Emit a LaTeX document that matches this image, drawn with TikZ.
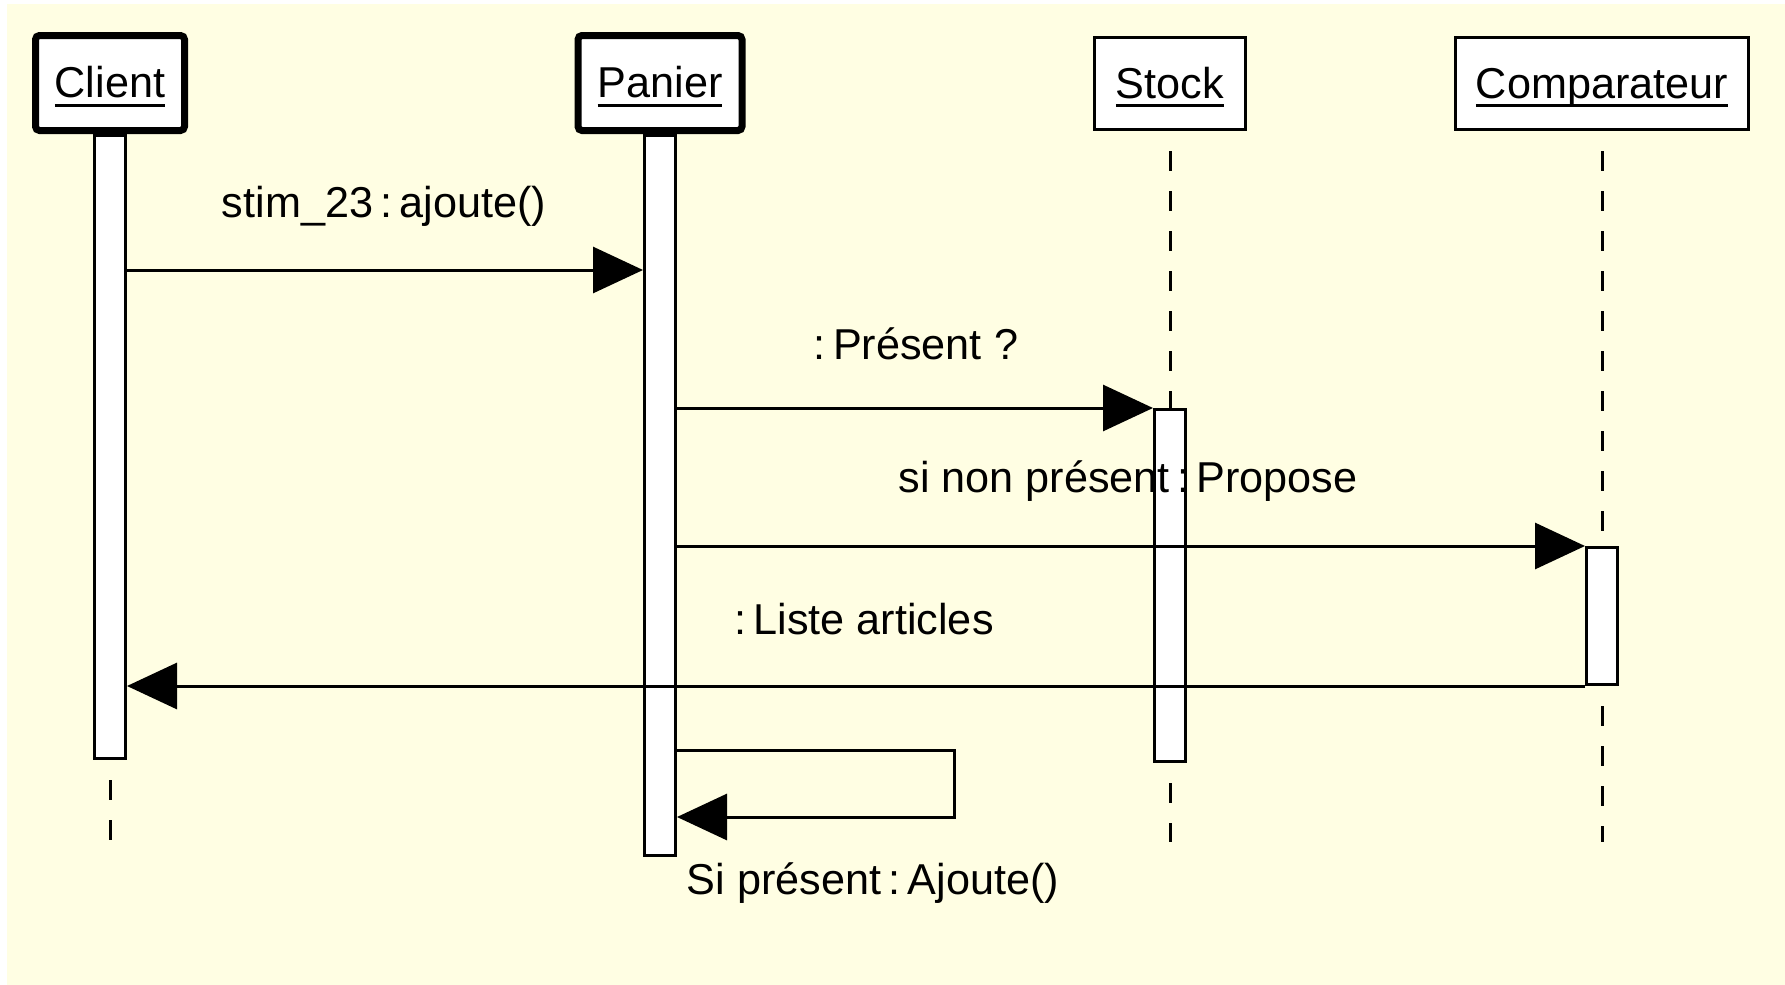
\documentclass[tikz,border=0pt]{standalone}
\usepackage{fontspec}
\setmainfont{Liberation Sans}
\usetikzlibrary{positioning,arrows.meta}
\newcommand{\uname}[1]{\setbox0\hbox{#1}\rlap{\vrule height -3pt depth 4.4pt width \wd0}\box0}
\definecolor{notepaper}{RGB}{255,254,227}

\begin{document}
\begin{tikzpicture}[x=0.5pt,y=-0.5pt,
    every node/.style={font=\fontsize{21.6}{26}\selectfont},
    actor/.style={draw,fill=white,line width=3.5pt,rounded corners=2pt,minimum width=#1,minimum height=47.5pt,text height=17pt,text depth=2.2pt},
    object/.style={draw,fill=white,line width=1.3pt,minimum width=#1,minimum height=46.2pt,text height=17pt,text depth=2.2pt},
    bar/.style={draw,fill=white,line width=1.5pt,inner sep=0pt,minimum width=15.5pt,minimum height=#1},
    life/.style={line width=1.5pt,dash pattern=on 10pt off 10pt,dash phase=10pt},
    msg/.style={line width=1.5pt,-{Triangle[length=25pt,width=23pt]}}]
  \useasboundingbox (0,0) rectangle (1785,985);
  \fill[white] (0,0) rectangle (1785,985);
  \fill[notepaper] (7,4) rectangle (1785,985);

  \node[actor=74.5pt] (client) at (110,83) {\uname{Client}};
  \node[actor=82pt] (panier) at (660,83) {\uname{Panier}};
  \node[object=75.7pt] (stock) at (1170,83.5) {\uname{Stock}};
  \node[object=146.7pt] (comp) at (1602,83.5) {\uname{Comparateur}};

  \node[bar=311.5pt, below=0pt of client] (cbar) {};
  \node[bar=360pt, below=0pt of panier] (pbar) {};
  \node[bar=176pt, anchor=north] (sbar) at (1170,408) {};
  \node[bar=68.5pt, anchor=north] (kbar) at (1602,546) {};

  \node (ajoute) at (384,206) {stim\_23\,:\,ajoute()};
  \node (present) at (916,344) {:\,Présent ?};
  \node (propose) at (1128,481) {si non présent\,:\,Propose};
  \node (liste) at (864,619) {:\,Liste articles};
  \node (siajoute) at (873,883) {Si présent\,:\,Ajoute()};

  \coordinate (cend) at (110,842);
  \coordinate (send) at (1170,842);
  \coordinate (kend) at (1602,842);
  \draw[life] (cbar) -- (cend);
  \draw[life] (stock) -- (sbar) (sbar) -- (send);
  \draw[life] (comp) -- (kbar) (kbar) -- (kend);

  \coordinate (stim) at (0,270);
  \coordinate (loopa) at (954,750);
  \coordinate (loopb) at (954,817);
  \draw[msg] (cbar.east |- stim) -- (pbar.west |- stim);
  \draw[msg] (pbar.east |- sbar.north) -- (sbar.north west);
  \draw[msg] (pbar.east |- kbar.north) -- (kbar.north west);
  \draw[msg] (kbar.south west) -- (cbar.east |- kbar.south);
  \draw[msg] (pbar.east |- loopa) -- (loopa) -- (loopb) -- (pbar.east |- loopb);
\end{tikzpicture}
\end{document}
